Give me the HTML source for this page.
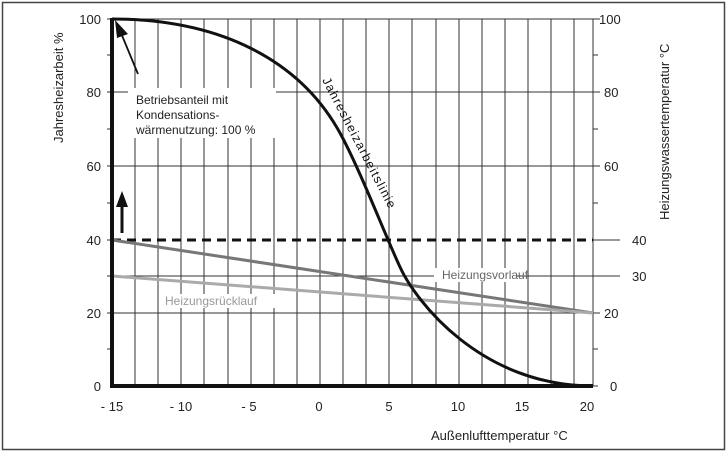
<!DOCTYPE html>
<html><head><meta charset="utf-8"><style>
html,body{margin:0;padding:0;background:#fff;}
svg{display:block;font-family:"Liberation Sans",sans-serif;}
</style></head><body>
<svg width="728" height="453" viewBox="0 0 728 453" xmlns="http://www.w3.org/2000/svg">
<rect x="2.5" y="2.5" width="722" height="447" fill="#fff" stroke="#444" stroke-width="1.5"/>
<g stroke="#333" stroke-width="1">
<line x1="135" y1="19" x2="135" y2="386"/><line x1="158" y1="19" x2="158" y2="386"/><line x1="181" y1="19" x2="181" y2="386"/><line x1="204" y1="19" x2="204" y2="386"/><line x1="228" y1="19" x2="228" y2="386"/><line x1="251" y1="19" x2="251" y2="386"/><line x1="274" y1="19" x2="274" y2="386"/><line x1="297" y1="19" x2="297" y2="386"/><line x1="320" y1="19" x2="320" y2="386"/><line x1="343" y1="19" x2="343" y2="386"/><line x1="366" y1="19" x2="366" y2="386"/><line x1="389" y1="19" x2="389" y2="386"/><line x1="412" y1="19" x2="412" y2="386"/><line x1="436" y1="19" x2="436" y2="386"/><line x1="459" y1="19" x2="459" y2="386"/><line x1="482" y1="19" x2="482" y2="386"/><line x1="505" y1="19" x2="505" y2="386"/><line x1="528" y1="19" x2="528" y2="386"/><line x1="551" y1="19" x2="551" y2="386"/><line x1="574" y1="19" x2="574" y2="386"/>
<line x1="593" y1="19" x2="593" y2="386"/>
<line x1="107" y1="19" x2="600" y2="19"/><line x1="107" y1="92" x2="600" y2="92"/><line x1="107" y1="166" x2="600" y2="166"/><line x1="107" y1="313" x2="600" y2="313"/>
<line x1="593" y1="240" x2="620" y2="240"/><line x1="112" y1="276" x2="620" y2="276"/>
<line x1="107" y1="55" x2="112" y2="55"/><line x1="107" y1="129" x2="112" y2="129"/><line x1="107" y1="203" x2="112" y2="203"/><line x1="107" y1="276" x2="112" y2="276"/><line x1="107" y1="349" x2="112" y2="349"/><line x1="107" y1="240" x2="112" y2="240"/>
<line x1="593" y1="55" x2="598" y2="55"/><line x1="593" y1="129" x2="598" y2="129"/><line x1="593" y1="203" x2="598" y2="203"/><line x1="593" y1="349" x2="598" y2="349"/><line x1="593" y1="386" x2="598" y2="386"/>
</g>
<rect x="128" y="88" width="148" height="50" fill="#fff"/>
<rect x="434" y="268" width="82" height="14" fill="#fff"/>
<rect x="160" y="294" width="120" height="14" fill="#fff"/>
<line x1="112" y1="240" x2="593" y2="240" stroke="#111" stroke-width="3" stroke-dasharray="9,6"/>
<line x1="112" y1="240" x2="593" y2="313" stroke="#777" stroke-width="3"/>
<line x1="112" y1="276" x2="593" y2="313" stroke="#aaa" stroke-width="3"/>
<path d="M112,19 C220,19 300,60 340,133 C360,169.5 385,235 400,267 C415,300 480,386 593,386" fill="none" stroke="#111" stroke-width="3"/>
<line x1="112" y1="18" x2="112" y2="387" stroke="#111" stroke-width="4"/>
<line x1="110" y1="386" x2="593" y2="386" stroke="#111" stroke-width="4"/>
<line x1="138" y1="74" x2="121" y2="33" stroke="#111" stroke-width="1.8"/>
<polygon points="115,20 128,34 117,38" fill="#111"/>
<line x1="122" y1="233" x2="122" y2="205" stroke="#111" stroke-width="3"/>
<polygon points="116,207 128,207 122,191" fill="#111"/>
<g font-size="12" fill="#222">
<text x="136" y="104">Betriebsanteil mit</text>
<text x="136" y="119">Kondensations-</text>
<text x="136" y="134">wärmenutzung: 100 %</text>
</g>
<text x="442" y="279" font-size="12" fill="#666">Heizungsvorlauf</text>
<text x="165" y="305" font-size="12" fill="#999">Heizungsrücklauf</text>
<text transform="translate(322,80) rotate(62.6)" font-size="12.5" fill="#111" letter-spacing="1.2">Jahresheizarbeitslinie</text>
<g font-size="13" fill="#222" text-anchor="end">
<text x="101" y="24">100</text><text x="101" y="97">80</text><text x="101" y="171">60</text><text x="101" y="245">40</text><text x="101" y="318">20</text><text x="101" y="391">0</text>
</g>
<g font-size="13" fill="#222">
<text x="599" y="24">100</text><text x="604" y="97">80</text><text x="604" y="171">60</text><text x="632" y="245">40</text><text x="632" y="281">30</text><text x="604" y="318">20</text><text x="610" y="391">0</text>
</g>
<g font-size="13" fill="#222" text-anchor="middle">
<text x="112" y="411">- 15</text><text x="181" y="411">- 10</text><text x="249" y="411">- 5</text><text x="319" y="411">0</text><text x="389" y="411">5</text><text x="458" y="411">10</text><text x="522" y="411">15</text><text x="587" y="411">20</text>
</g>
<text x="431" y="440" font-size="13" fill="#222">Außenlufttemperatur °C</text>
<text transform="translate(63,143) rotate(-90)" font-size="13" fill="#222">Jahresheizarbeit %</text>
<text transform="translate(669,220) rotate(-90)" font-size="13" fill="#222">Heizungswassertemperatur °C</text>
</svg>
</body></html>
